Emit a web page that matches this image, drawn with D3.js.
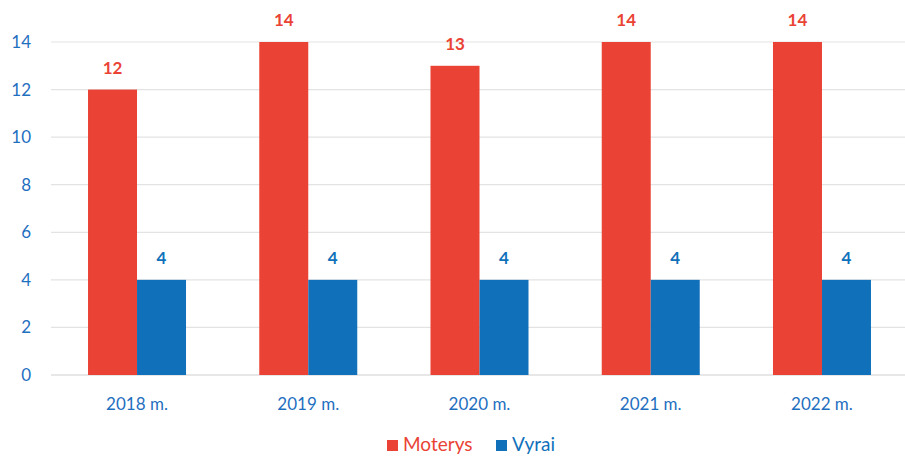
<!DOCTYPE html>
<html><head><meta charset="utf-8">
<script src="https://cdn.jsdelivr.net/npm/d3@7"></script>
<style>body{margin:0;background:#fff;overflow:hidden}svg{display:block}</style>
</head><body>
<svg id="c" width="905" height="456"></svg>
<script>
const categories = ["2018 m.", "2019 m.", "2020 m.", "2021 m.", "2022 m."];
const seriesNames = ["Moterys", "Vyrai"];
const moterys = [12, 14, 13, 14, 14];
const vyrai = [4, 4, 4, 4, 4];
const yTicks = [0, 2, 4, 6, 8, 10, 12, 14];
const colors = ["#EA4335", "#1071BA"];
const textBlue = "#1F6FBF";
const font = "Lato, 'Open Sans', sans-serif";

const svg = d3.select("#c");
const x = d3.scaleBand().domain(categories).range([51.4, 907.6]).paddingInner(0).paddingOuter(0);
const y = d3.scaleLinear().domain([0, 14]).range([375, 42]);
const barW = 49;
const data = categories.map((c, i) => ({c, v: [moterys[i], vyrai[i]]}));

// gridlines
svg.append("g").selectAll("line").data(yTicks).join("line")
  .attr("x1", 51).attr("x2", 905)
  .attr("y1", d => y(d)).attr("y2", d => y(d))
  .attr("stroke", d => d === 0 ? "#d0d0d0" : "#e3e3e3").attr("stroke-width", 1.2);

// y tick labels
svg.append("g").selectAll("text").data(yTicks).join("text")
  .attr("x", 31).attr("y", d => y(d)).attr("dy", "0.35em")
  .attr("text-anchor", "end").attr("fill", textBlue)
  .attr("font-family", font).attr("font-size", 17).text(d => d);

// bars
const g = svg.append("g");
data.forEach(d => {
  const cx = x(d.c) + x.bandwidth() / 2;
  d.v.forEach((v, s) => {
    const x0 = cx - barW + s * barW;
    g.append("rect").attr("x", x0).attr("width", barW)
      .attr("y", y(v)).attr("height", y(0) - y(v)).attr("fill", colors[s]);
    g.append("text").attr("x", x0 + barW / 2).attr("y", y(v) - 16)
      .attr("text-anchor", "middle").attr("fill", colors[s])
      .attr("font-family", font).attr("font-weight", "bold").attr("font-size", 17)
      .text(v);
  });
  g.append("text").attr("x", cx).attr("y", 410).attr("text-anchor", "middle")
    .attr("fill", textBlue).attr("font-family", font).attr("font-size", 17).text(d.c);
});

// legend
const leg = svg.append("g");
const legX = [387, 496];
seriesNames.forEach((n, i) => {
  leg.append("rect").attr("x", legX[i]).attr("y", 440).attr("width", 11).attr("height", 11).attr("fill", colors[i]);
  leg.append("text").attr("x", legX[i] + 16).attr("y", 451).attr("fill", colors[i])
    .attr("font-family", font).attr("font-size", 19).text(n);
});
</script>
</body></html>
